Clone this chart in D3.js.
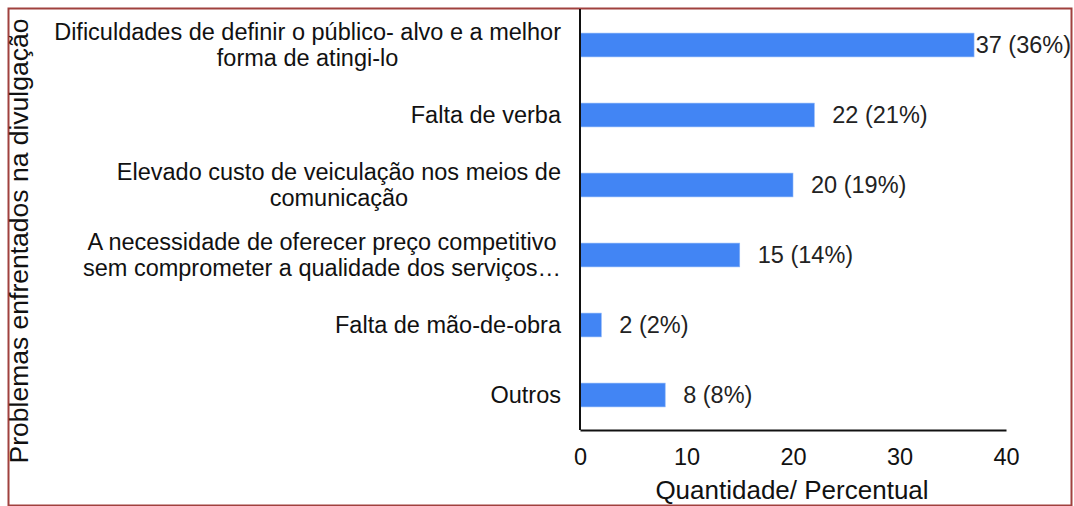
<!DOCTYPE html>
<html>
<head>
<meta charset="utf-8">
<script src="https://cdn.jsdelivr.net/npm/d3@7"></script>
<style>
  body { margin: 0; background: #fff; }
  text { font-family: "Liberation Sans", Arial, sans-serif; }
</style>
</head>
<body>
<div id="chart"></div>
<script>
var categories = [
  ["Dificuldades de definir o público- alvo e a melhor", "forma de atingi-lo"],
  ["Falta de verba"],
  ["Elevado custo de veiculação nos meios de", "comunicação"],
  ["A necessidade de oferecer preço competitivo", "sem comprometer a qualidade dos serviços…"],
  ["Falta de mão-de-obra"],
  ["Outros"]
];
var counts = [37, 22, 20, 15, 2, 8];
var percents = [36, 21, 19, 14, 2, 8];
var xTicks = [0, 10, 20, 30, 40];

var width = 1074;
var height = 506;
var margin = { top: 10, right: 68, bottom: 76, left: 580 };

var svg = d3.select('#chart')
  .append('svg')
  .attr('width', width)
  .attr('height', height);

// frame
svg.append('rect')
  .attr('x', 8.5)
  .attr('y', 8.5)
  .attr('width', 1063)
  .attr('height', 497)
  .attr('fill', 'none')
  .attr('stroke', '#a0413e')
  .attr('stroke-width', 2);

var x = d3.scaleLinear()
  .domain([0, 40])
  .range([margin.left, width - margin.right]);

var y = d3.scaleBand()
  .domain(d3.range(categories.length))
  .range([margin.top, height - margin.bottom])
  .paddingInner(0.66)
  .paddingOuter(0.33);

var data = counts.map(function(c, i) {
  return { i: i, count: c, pct: percents[i], lines: categories[i] };
});

svg.selectAll('rect.bar')
  .data(data)
  .enter()
  .append('rect')
  .attr('class', 'bar')
  .attr('x', x(0))
  .attr('y', function(d) { return y(d.i); })
  .attr('width', function(d) { return x(d.count) - x(0); })
  .attr('height', y.bandwidth())
  .attr('fill', '#4285f4')
  .attr('stroke', '#8ab4f8')
  .attr('stroke-width', 0.6);

// value labels
var vals = svg.selectAll('text.val')
  .data(data)
  .enter()
  .append('text')
  .attr('class', 'val')
  .attr('y', function(d) { return y(d.i) + y.bandwidth() / 2; })
  .attr('dy', '0.35em')
  .attr('font-size', 23.5)
  .attr('fill', '#222')
  .text(function(d) { return d.count + ' (' + d.pct + '%)'; });

vals.attr('x', function(d) {
  var w = this.getComputedTextLength();
  return Math.min(x(d.count) + 18, 1071 - w);
});

// category labels
var catG = svg.selectAll('g.cat')
  .data(data)
  .enter()
  .append('g')
  .attr('class', 'cat');

catG.each(function(d) {
  var g = d3.select(this);
  var cy = y(d.i) + y.bandwidth() / 2;
  var n = d.lines.length;
  var ts = g.selectAll('text')
    .data(d.lines)
    .enter()
    .append('text')
    .attr('font-size', 23.5)
    .attr('fill', '#111')
    .attr('text-anchor', 'middle')
    .attr('y', function(l, k) { return cy + (k - (n - 1) / 2) * 26; })
    .attr('dy', '0.35em')
    .text(function(l) { return l; });
  var maxW = 0;
  ts.each(function() { maxW = Math.max(maxW, this.getComputedTextLength()); });
  ts.attr('x', 561 - maxW / 2);
});

// axes
var xAxis = d3.axisBottom(x)
  .tickValues(xTicks)
  .tickSize(0)
  .tickPadding(18);

var gx = svg.append('g')
  .attr('transform', 'translate(0,' + (height - margin.bottom) + ')')
  .call(xAxis);
gx.select('.domain').attr('stroke', '#111').attr('stroke-width', 2);
gx.selectAll('text')
  .attr('font-size', 23.5)
  .attr('fill', '#111')
  .style('font-family', '"Liberation Sans", Arial, sans-serif');

svg.append('line')
  .attr('x1', x(0))
  .attr('x2', x(0))
  .attr('y1', 9)
  .attr('y2', height - margin.bottom)
  .attr('stroke', '#111')
  .attr('stroke-width', 2);

svg.append('text')
  .attr('x', 792)
  .attr('y', 499)
  .attr('text-anchor', 'middle')
  .attr('font-size', 26)
  .attr('fill', '#111')
  .text('Quantidade/ Percentual');

svg.append('text')
  .attr('transform', 'translate(28,241) rotate(-90)')
  .attr('text-anchor', 'middle')
  .attr('font-size', 26.5)
  .attr('fill', '#111')
  .text('Problemas enfrentados na divulgação');
</script>
</body>
</html>
